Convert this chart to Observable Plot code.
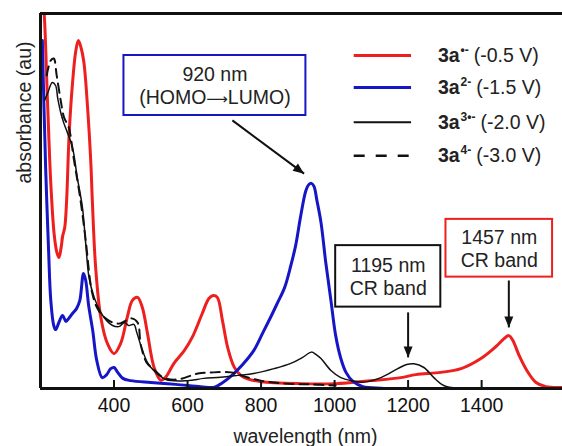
<!DOCTYPE html>
<html><head><meta charset="utf-8">
<script src="https://cdn.jsdelivr.net/npm/d3@7"></script>
<script src="https://cdn.jsdelivr.net/npm/@observablehq/plot@0.6"></script>
<style>html,body{margin:0;padding:0;background:#fff;} #chart svg{display:block}</style>
</head><body><div id="chart"></div>
<script>
// ---------- data (wavelength nm, absorbance au) ----------
const xTicks = [400, 600, 800, 1000, 1200, 1400];
const seriesRed = [[205,1.05],[210,1.0],[219,0.768],[228,0.547],[237,0.413],[244,0.365],[250,0.349],[256,0.375],[260,0.405],[266,0.43],[271,0.5],[278,0.68],[287,0.813],[296,0.9],[303,0.928],[310,0.91],[318,0.87],[328,0.75],[337,0.6],[341,0.501],[350,0.323],[364,0.19],[382,0.12],[400,0.093],[418,0.12],[436,0.19],[450,0.235],[464,0.243],[477,0.216],[491,0.147],[509,0.056],[527,0.022],[540,0.03],[563,0.067],[591,0.101],[613,0.137],[640,0.2],[658,0.24],[670,0.248],[681,0.243],[695,0.181],[709,0.11],[727,0.057],[745,0.035],[763,0.026],[800,0.018],[908,0.013],[1003,0.013],[1099,0.021],[1180,0.029],[1221,0.037],[1289,0.043],[1344,0.053],[1398,0.08],[1439,0.112],[1461,0.133],[1474,0.141],[1485,0.128],[1502,0.088],[1523,0.048],[1548,0.016],[1575,0.005],[1621,0.003]];
const seriesBlue = [[205,0.928],[209,0.768],[214,0.589],[222,0.368],[228,0.235],[236,0.168],[241,0.157],[250,0.176],[260,0.195],[269,0.179],[277,0.187],[287,0.2],[298,0.213],[307,0.235],[317,0.307],[323,0.288],[331,0.221],[342,0.155],[353,0.075],[368,0.029],[380,0.037],[391,0.053],[400,0.056],[410,0.043],[424,0.027],[445,0.021],[500,0.016],[568,0.011],[636,0.005],[671,0.003],[696,0.016],[723,0.037],[750,0.064],[780,0.101],[805,0.149],[827,0.192],[845,0.229],[864,0.269],[881,0.328],[894,0.381],[908,0.461],[922,0.528],[930,0.544],[937,0.547],[944,0.539],[952,0.501],[963,0.443],[976,0.336],[990,0.235],[1003,0.141],[1017,0.08],[1031,0.043],[1050,0.019],[1077,0.005],[1126,0.001],[1175,0]];
const seriesBlack = [[211,0.768],[220,0.789],[232,0.816],[241,0.808],[247,0.773],[255,0.736],[263,0.709],[273,0.683],[287,0.643],[300,0.563],[314,0.483],[323,0.387],[332,0.296],[346,0.243],[364,0.203],[380,0.181],[396,0.168],[413,0.165],[429,0.176],[440,0.168],[454,0.171],[462,0.149],[473,0.115],[491,0.069],[508,0.048],[541,0.024],[600,0.021],[644,0.027],[690,0.03],[737,0.035],[780,0.04],[835,0.053],[881,0.067],[913,0.083],[937,0.097],[949,0.091],[963,0.08],[990,0.048],[1017,0.029],[1044,0.021],[1080,0.017],[1126,0.029],[1172,0.053],[1196,0.064],[1216,0.066],[1243,0.056],[1270,0.029],[1297,0.008],[1335,0],[1357,0]];
const seriesDashed = [[217,0.835],[228,0.875],[236,0.88],[244,0.835],[255,0.768],[264,0.723],[277,0.696],[290,0.616],[309,0.501],[323,0.395],[341,0.253],[358,0.208],[386,0.181],[413,0.173],[432,0.181],[448,0.187],[464,0.176],[473,0.115],[489,0.069],[508,0.051],[535,0.029],[573,0.024],[628,0.04],[671,0.043],[718,0.043],[745,0.035],[799,0.021],[867,0.013],[935,0.011],[1003,0.008]];

const legendBase = ["3a", "3a", "3a", "3a"];
const legendSup = ["•-", "2-", "3•-", "4-"];
const legendPotential = ["(-0.5 V)", "(-1.5 V)", "(-2.0 V)", "(-3.0 V)"];
const annotationLabels = ["920 nm\n(HOMO→LUMO)", "1195 nm\nCR band", "1457 nm\nCR band"];
const xLabel = "wavelength (nm)";
const yLabel = "absorbance (au)";

// ---------- layout / style ----------
const RED = "#ee1f1f", BLUE = "#1616c6", BLACK = "#111";
const FONT = "'Liberation Sans', Arial, Helvetica, sans-serif";
const FS = 19.5;
const styles = [
  {data: seriesRed, stroke: RED, width: 3, legendWidth: 3, dash: null, legendDash: null},
  {data: seriesBlue, stroke: BLUE, width: 3, legendWidth: 3, dash: null, legendDash: null},
  {data: seriesBlack, stroke: BLACK, width: 1.5, legendWidth: 2, dash: null, legendDash: null},
  {data: seriesDashed, stroke: BLACK, width: 2, legendWidth: 2.5, dash: "9,6", legendDash: "11,11"}
];
const legendLayout = {x1: 1052, x2: 1208, xText: 1281, ys: [0.888, 0.803, 0.71, 0.621]};
const boxLayout = [
  {x1: 427, x2: 922, y1: 0.728, y2: 0.888, color: BLUE},
  {x1: 1003, x2: 1289, y1: 0.217, y2: 0.381, color: BLACK},
  {x1: 1303, x2: 1593, y1: 0.297, y2: 0.451, color: RED}
];
const arrowLayout = [
  {x1: 722, y1: 0.715, x2: 917, y2: 0.573},
  {x1: 1200, y1: 0.203, x2: 1200, y2: 0.083},
  {x1: 1474, y1: 0.288, x2: 1474, y2: 0.163}
];

const W = 562, H = 446, ML = 40, MR = 0, MT = 13, MB = 58;
const xDom = [200, 1620];
const kx = (W - ML - MR) / (xDom[1] - xDom[0]), ky = (H - MT - MB);
const toRows = arr => arr.map(([x, y]) => ({x, y}));

const marks = [];
styles.forEach(s => marks.push(Plot.line(toRows(s.data), {
  x: "x", y: "y", stroke: s.stroke, strokeWidth: s.width,
  strokeDasharray: s.dash || undefined, curve: "catmull-rom", clip: true
})));

// frame & ticks
marks.push(Plot.ruleY([0], {strokeWidth: 3}));
marks.push(Plot.ruleY([1], {strokeWidth: 3}));
marks.push(Plot.ruleX([xDom[0]], {strokeWidth: 3}));
marks.push(Plot.ruleX(xTicks, {insetTop: H - MT - MB - 8, strokeWidth: 2}));
marks.push(Plot.axisX(xTicks, {tickSize: 0, tickPadding: 10, fontSize: FS, label: null, tickFormat: d => String(d)}));

// legend
styles.forEach((s, i) => marks.push(Plot.link([i], {
  x1: () => legendLayout.x1, x2: () => legendLayout.x2,
  y1: () => legendLayout.ys[i], y2: () => legendLayout.ys[i],
  stroke: s.stroke, strokeWidth: s.legendWidth,
  strokeDasharray: s.legendDash || undefined
})));
marks.push(Plot.text(legendBase.map((_, i) => i), {
  x: () => legendLayout.xText, y: i => legendLayout.ys[i],
  text: i => legendBase[i] + legendSup[i] + " " + legendPotential[i],
  textAnchor: "start", lineAnchor: "middle", fontSize: FS, fill: "#222"
}));

// annotation boxes
marks.push(Plot.rect(boxLayout, {x1: "x1", x2: "x2", y1: "y1", y2: "y2", fill: "white", stroke: d => d.color, strokeWidth: 2}));
marks.push(Plot.text(boxLayout, {
  x: d => (d.x1 + d.x2) / 2, y: d => (d.y1 + d.y2) / 2,
  text: (d, i) => annotationLabels[i], fontSize: FS, lineHeight: 1.15, fill: "#222"
}));
// arrows
marks.push(Plot.link(arrowLayout, {x1: "x1", y1: "y1", x2: "x2", y2: "y2", stroke: BLACK, strokeWidth: 2}));
marks.push(Plot.vector(arrowLayout, {
  x: "x2", y: "y2", shape: "spike", anchor: "end", length: 11, r: 4.5,
  rotate: d => Math.atan2((d.x2 - d.x1) * kx, (d.y2 - d.y1) * ky) * 180 / Math.PI,
  fill: BLACK, stroke: "none"
}));

// axis titles
marks.push(Plot.text([xLabel], {text: d => d, frameAnchor: "bottom", dx: 4, dy: 48, lineAnchor: "middle", fontSize: FS, fill: "#222"}));
marks.push(Plot.text([yLabel], {text: d => d, frameAnchor: "top-left", dx: -16, dy: 99, rotate: -90, textAnchor: "middle", lineAnchor: "middle", fontSize: FS, fill: "#222"}));

const plot = Plot.plot({
  width: W, height: H, marginLeft: ML, marginRight: MR, marginTop: MT, marginBottom: MB,
  style: {fontFamily: FONT, fontSize: FS + "px", color: "#111", background: "white", overflow: "visible"},
  x: {domain: xDom},
  y: {domain: [0, 1], axis: null},
  marks
});

// rich legend labels (bold + superscript)
d3.select(plot).selectAll("text").each(function () {
  const content = this.textContent;
  const i = legendBase.findIndex((b, j) => content === b + legendSup[j] + " " + legendPotential[j]);
  if (i < 0) return;
  const t = d3.select(this);
  t.text(null);
  t.append("tspan").attr("font-weight", "bold").text(legendBase[i]);
  t.append("tspan").attr("font-weight", "bold").attr("font-size", 12).attr("dy", -8).attr("dx", 1).text(legendSup[i]);
  t.append("tspan").attr("dy", 8).attr("dx", 5).text(legendPotential[i]);
});

// longer arrow glyph in the HOMO→LUMO label
d3.select(plot).selectAll("tspan").each(function () {
  if (this.childElementCount || !this.textContent.includes("→")) return;
  const parts = this.textContent.split("→");
  const t = d3.select(this);
  t.text(null);
  t.append("tspan").text(parts[0]);
  t.append("tspan").attr("font-family", "'DejaVu Sans', sans-serif").attr("font-size", 15).text("⟶");
  t.append("tspan").text(parts[1]);
});

document.getElementById("chart").appendChild(plot);
</script>
</body></html>
